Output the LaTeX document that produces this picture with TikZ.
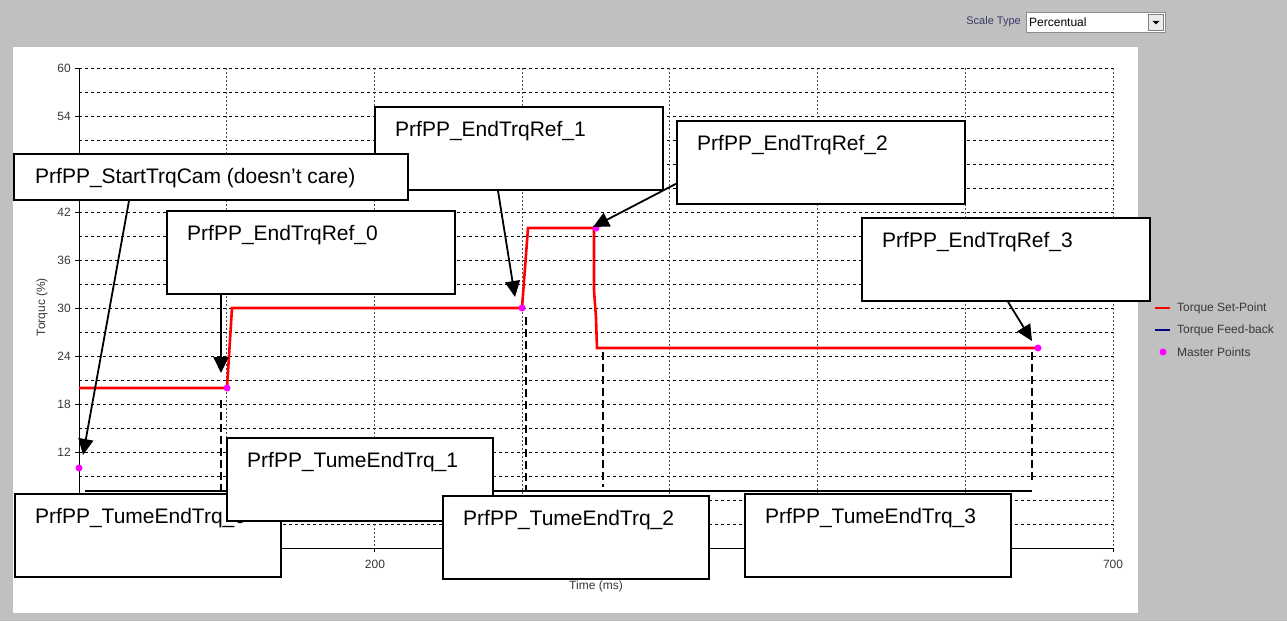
\documentclass[tikz,border=0pt]{standalone}
\usepackage{fontspec}
\setmainfont{Liberation Sans}
\usetikzlibrary{arrows.meta}
\definecolor{panelgray}{HTML}{C0C0C0}
\definecolor{axistext}{HTML}{383838}
\definecolor{scaleblue}{HTML}{3A3A6A}
\definecolor{setred}{HTML}{FF0000}
\definecolor{fbnavy}{HTML}{000080}
\definecolor{mastermag}{HTML}{FF00FF}

\begin{document}
\begin{tikzpicture}[x=1pt,y=-1pt,
  hgrid/.style={black, line width=0.8pt, dash pattern=on 3pt off 3pt},
  vgrid/.style={black!70, line width=0.8pt, dash pattern=on 2pt off 2pt},
  axisline/.style={black, line width=0.9pt},
  ticklab/.style={font=\fontsize{12}{14}\selectfont, text=axistext, inner sep=0pt},
  setpoint/.style={setred, line width=2.6pt, line join=miter},
  master/.style={circle, fill=mastermag, inner sep=0pt, minimum size=7pt},
  guide/.style={black, line width=1.8pt, dash pattern=on 8pt off 4pt},
  callout/.style={draw=black, line width=1.8pt, fill=white, anchor=north west, inner sep=0pt},
  refbox/.style={callout, minimum width=288pt, minimum height=83pt},
  tumebox/.style={callout, minimum width=266pt, minimum height=83pt},
  calltext/.style={anchor=north west, inner sep=0pt, font=\fontsize{21}{25}\selectfont},
  pointer/.style={black, line width=1.8pt, -{Triangle[length=16pt,width=15pt]}},
]
% window background and chart panel
\fill[panelgray] (0,0) rectangle (1287,621);
\fill[white] (13,47) rectangle (1138,613);
\useasboundingbox (0,0) rectangle (1287,621);

% scale type selector
\node[font=\fontsize{11}{13}\selectfont, inner sep=0pt, anchor=east, text=scaleblue] (stl) at (1021,22) {Scale Type};
\node[draw=black!45, fill=white, anchor=north west, minimum width=139pt, minimum height=20pt, inner sep=0pt, line width=0.8pt] (dd) at (1026,12) {};
\node[anchor=west, inner sep=0pt, font=\fontsize{12}{14}\selectfont] (ddv) at (1029,22) {Percentual};
\node[draw=black!50, fill=black!8, anchor=north east, minimum width=15pt, minimum height=16pt, inner sep=0pt, line width=0.6pt] (ddb) at ([shift={(-2pt,-2pt)}]dd.north east) {};
\fill ([shift={(-3.5pt,1.5pt)}]ddb.center) -- ([shift={(3.5pt,1.5pt)}]ddb.center) -- ([shift={(0pt,-2pt)}]ddb.center) -- cycle;

% grid
\foreach \v in {3,6,...,60}
  \draw[hgrid] (79,{548-8*\v}) -- (1113,{548-8*\v});
\foreach \k in {1,...,7}
  \draw[vgrid] ({79+147.71*\k},68) -- ({79+147.71*\k},548);

% axes and ticks
\draw[axisline] (79,68) -- (79,548) -- (1113,548);
\foreach \v in {0,6,...,60}
  \draw[axisline] (75,{548-8*\v}) -- (79,{548-8*\v});
\foreach \k in {0,...,7}
  \draw[axisline] ({79+147.71*\k},548) -- ({79+147.71*\k},552);
\foreach \v in {60,54,42,36,30,24,18,12}
  \node[ticklab, anchor=east] (yl\v) at (71,{548-8*\v}) {\v};
\node[ticklab] (xl200) at (375,564) {200};
\node[ticklab] (xl700) at (1113,564) {700};
\node[ticklab, rotate=90] (ylab) at (42,307) {Torquc (\%)};
\node[ticklab] (xlab) at (596,586) {Time (ms)};

% legend
\draw[setred, line width=1.6pt] (1155,308) -- (1170,308);
\node[ticklab, anchor=west] (lg1) at (1177,308) {Torque Set-Point};
\draw[fbnavy, line width=1.6pt] (1155,330) -- (1170,330);
\node[ticklab, anchor=west] (lg2) at (1177,330) {Torque Feed-back};
\node[master] (lg3dot) at (1163,352) {};
\node[ticklab, anchor=west] (lg3) at (1177,352) {Master Points};

% torque set-point profile
\draw[setpoint] (79,388) -- (227,388) -- (232,308) -- (522,308) -- (528,228)
  -- (594,228) -- (594,290) -- (596,318) -- (597,348) -- (1038,348);

% master points
\node[master] (m0) at (79,468) {};
\node[master] (m1) at (227,388) {};
\node[master] (m2) at (522,308) {};
\node[master] (m3) at (596,228) {};
\node[master] (m4) at (1038,348) {};

% time markers
\draw[guide] (221,400) -- (221,491);
\draw[guide] (526,317) -- (526,491);
\draw[guide] (603,352) -- (603,487);
\draw[guide] (1032,352) -- (1032,482);
\draw[black, line width=2pt] (85,491) -- (1032,491);

% arrow tips
\coordinate (p0) at (83,455);
\coordinate (p1) at (221,373);
\coordinate (p2) at (515,297);
\coordinate (p3) at (593,227);
\coordinate (p4) at (1032,341);

% callouts for torque references
\node[refbox] (r1) at (374,106) {};
\node[calltext] (r1t) at ([shift={(21pt,-15pt)}]r1.north west) {PrfPP\_EndTrqRef\_1};
\draw[pointer] ([xshift=124pt]r1.south west) -- (p2);

\node[callout, minimum width=394pt, minimum height=46pt] (st) at (13,153) {};
\node[calltext] (stt) at ([shift={(22pt,-15pt)}]st.north west) {PrfPP\_StartTrqCam (doesn’t care)};
\draw[pointer] ([xshift=116pt]st.south west) -- (p0);

\node[refbox] (r0) at (166,210) {};
\node[calltext] (r0t) at ([shift={(21pt,-15pt)}]r0.north west) {PrfPP\_EndTrqRef\_0};
\draw[pointer] ([xshift=55pt]r0.south west) -- (p1);

\node[refbox] (r2) at (676,120) {};
\node[calltext] (r2t) at ([shift={(21pt,-15pt)}]r2.north west) {PrfPP\_EndTrqRef\_2};
\draw[pointer] ([yshift=21pt]r2.south west) -- (p3);

\node[refbox] (r3) at (861,217) {};
\node[calltext] (r3t) at ([shift={(21pt,-15pt)}]r3.north west) {PrfPP\_EndTrqRef\_3};
\draw[pointer] ([xshift=147pt]r3.south west) -- (p4);

% callouts for torque end times
\node[tumebox] (t0) at (14,493) {};
\node[calltext] (t0t) at ([shift={(21pt,-15pt)}]t0.north west) {PrfPP\_TumeEndTrq\_0};
\node[tumebox] (t1) at (226,437) {};
\node[calltext] (t1t) at ([shift={(21pt,-15pt)}]t1.north west) {PrfPP\_TumeEndTrq\_1};
\node[tumebox] (t2) at (442,495) {};
\node[calltext] (t2t) at ([shift={(21pt,-15pt)}]t2.north west) {PrfPP\_TumeEndTrq\_2};
\node[tumebox] (t3) at (744,493) {};
\node[calltext] (t3t) at ([shift={(21pt,-15pt)}]t3.north west) {PrfPP\_TumeEndTrq\_3};
\end{tikzpicture}
\end{document}
